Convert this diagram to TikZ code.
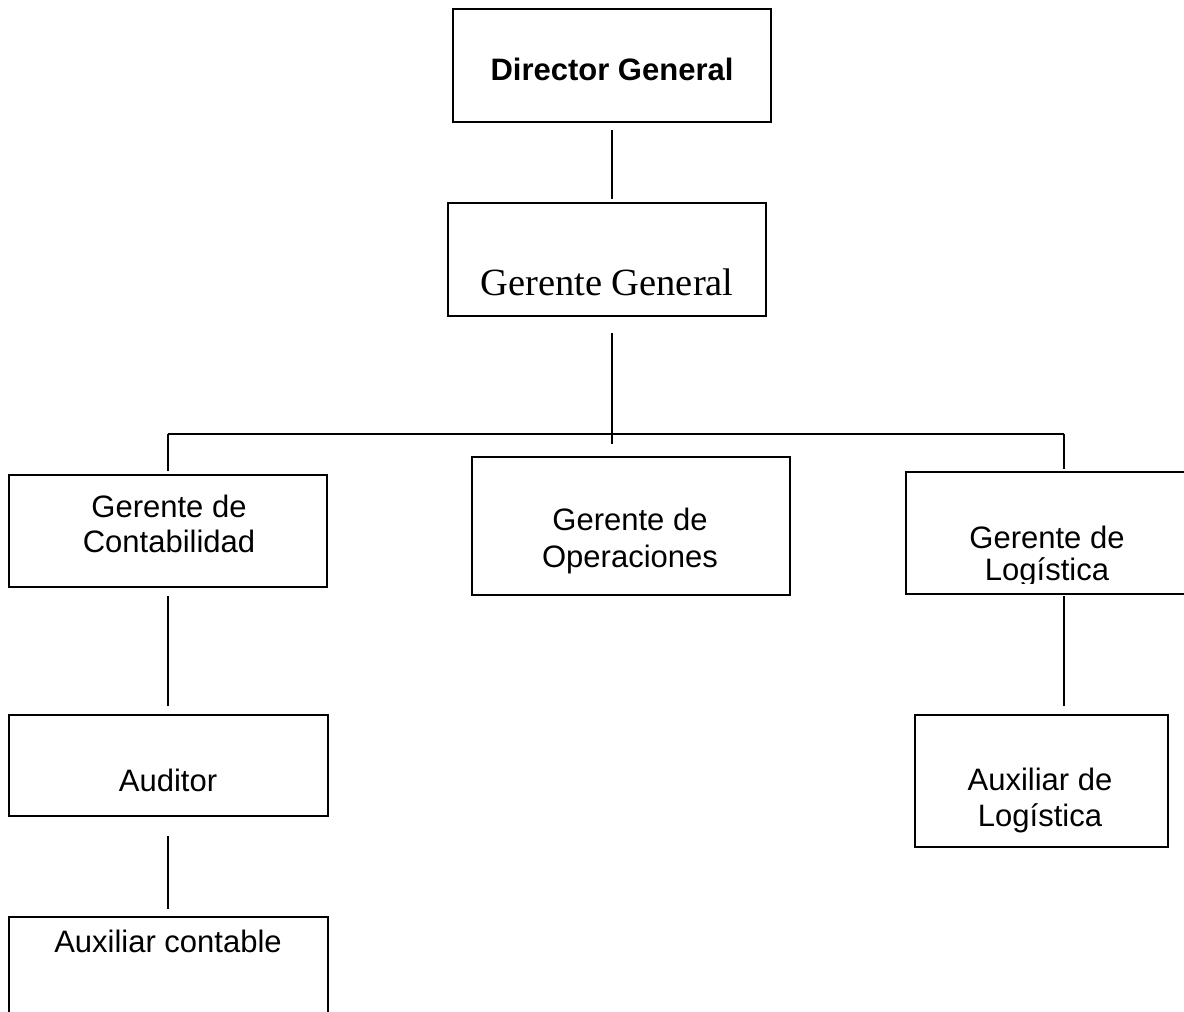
\documentclass[tikz,border=0pt]{standalone}
\usepackage{fontspec}
\setmainfont{Liberation Sans}
\newfontfamily\serifgg{Liberation Serif}
\usetikzlibrary{calc}
\tikzset{
  box/.style={draw, line width=1.8pt, inner sep=0pt, rectangle},
  lbl/.style={inner sep=0pt, anchor=base, font=\fontsize{31}{36}\selectfont},
  lblbold/.style={lbl, font=\fontsize{31}{36}\selectfont\bfseries},
  lblserif/.style={inner sep=0pt, anchor=base, font=\serifgg\fontsize{38.5}{44}\selectfont},
  conn/.style={draw, line width=1.8pt}
}
\begin{document}
\begin{tikzpicture}[x=1pt, y=-1pt]
\useasboundingbox (0,0) rectangle (1184,1012);
% boxes
\node[box, minimum width=318pt, minimum height=113pt] (dg) at (612,65.5) {};
\node[box, minimum width=318pt, minimum height=113pt] (gg) at (607,259.5) {};
\node[box, minimum width=318pt, minimum height=112pt] (gc) at (168,531) {};
\node[box, minimum width=318pt, minimum height=138pt] (go) at (631,526) {};
\node[box, minimum width=300pt, minimum height=122pt] (gl) at (1056,533) {};
\node[box, minimum width=319pt, minimum height=101pt] (au) at (168.5,765.5) {};
\node[box, minimum width=319pt, minimum height=120pt] (ac) at (168.5,977) {};
\node[box, minimum width=253pt, minimum height=132pt] (al) at (1041.5,781) {};
% labels
\node[lblbold] (dgt) at (612,80) {Director General};
\node[lblserif] (ggt) at (607,295) {Gerente General};
\node[lbl] (gct1) at (169,517) {Gerente de};
\node[lbl] (gct2) at (169,552) {Contabilidad};
\node[lbl] (got1) at (630,530) {Gerente de};
\node[lbl] (got2) at (630,567) {Operaciones};
\begin{scope}
  \clip (900,500) rectangle (1184,583);
  \node[lbl] (glt1) at (1047,548) {Gerente de};
  \node[lbl] (glt2) at (1047,580) {Logística};
\end{scope}
\node[lbl] (aut) at (168,791) {Auditor};
\node[lbl] (act) at (168,952) {Auxiliar contable};
\node[lbl] (alt1) at (1040,790) {Auxiliar de};
\node[lbl] (alt2) at (1040,826) {Logística};
% bus coordinates
\coordinate (bus) at (612,434);
\coordinate (busL) at (168,434);
\coordinate (busR) at (1064,434);
% connectors
\draw[conn] ($(dg.south)+(0,7)$) -- ($(gg.north -| dg.south)+(0,-3)$);
\draw[conn] ($(gg.south -| dg.south)+(0,16)$) -- ($(bus)+(0,10)$);
\draw[conn] (busL) -- (busR);
\draw[conn] (busL) -- ($(gc.north)+(0,-3)$);
\draw[conn] (busR) -- ($(gl.north -| busR)+(0,-2)$);
\draw[conn] ($(gc.south)+(0,8)$) -- ($(au.north -| gc.south)+(0,-8)$);
\draw[conn] ($(au.south -| gc.south)+(0,19)$) -- ($(ac.north -| gc.south)+(0,-7)$);
\draw[conn] ($(gl.south -| busR)+(0,1)$) -- ($(al.north -| busR)+(0,-8)$);
\end{tikzpicture}
\end{document}
